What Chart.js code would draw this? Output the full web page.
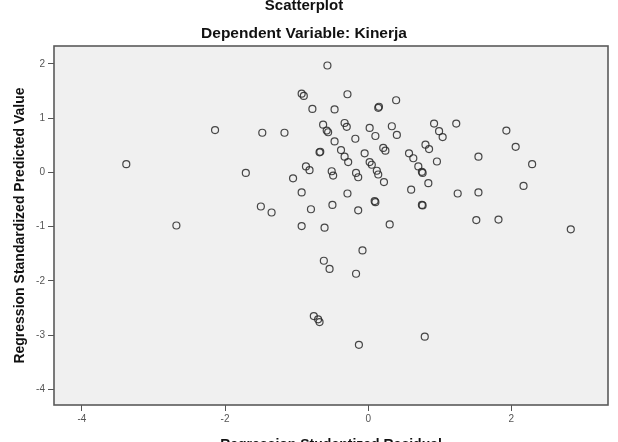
<!DOCTYPE html>
<html>
<head>
<meta charset="utf-8">
<script src="https://cdn.jsdelivr.net/npm/chart.js@4/dist/chart.umd.min.js"></script>
<style>
  html, body { margin: 0; padding: 0; background: #fff; overflow: hidden; }
  #wrap { width: 618px; height: 460px; }
</style>
</head>
<body>
<div id="wrap"><canvas id="scatter_chart"></canvas></div>
<script>
// residuals (x) and predicted values (y)
var residual = [-0.57, -0.93, -0.90, -0.78, -0.47, -2.14, -1.48, -1.17, -0.63, -0.58,
  -0.56, -0.47, -0.68, -0.67, -3.38, -1.71, -0.87, -0.82, -0.51, -0.49,
  -1.05, -0.93, -0.50, -1.50, -1.35, -0.80, -0.29, 0.39, 0.14, 0.15,
  -0.33, -0.30, 0.02, 0.10, 0.33, 0.40, -0.18, 0.92, 0.99, 1.04,
  1.23, 1.93, 2.06, 2.29, 2.17, 1.54, 1.54, 1.25, -0.38, -0.33,
  -0.28, -0.05, 0.02, 0.05, 0.12, 0.14, 0.22, 0.21, 0.24, -0.17,
  -0.14, 0.57, 0.63, 0.70, 0.75, 0.76, 0.80, 0.85, 0.96, 0.84,
  0.60, -0.29, -0.14, 0.09, 0.10, 0.75, 0.76, 1.51, 1.82, 2.83,
  -2.68, -0.93, -0.61, -0.62, -0.54, -0.76, -0.70, -0.68, 0.30, -0.08,
  -0.17, -0.13, 0.79]
var predicted = [1.97, 1.45, 1.41, 1.17, 1.16, 0.78, 0.73, 0.73, 0.88, 0.77,
  0.74, 0.57, 0.37, 0.38, 0.15, -0.01, 0.11, 0.04, 0.02, -0.06,
  -0.11, -0.37, -0.60, -0.63, -0.74, -0.68, 1.44, 1.33, 1.19, 1.21,
  0.91, 0.84, 0.82, 0.67, 0.85, 0.69, 0.62, 0.90, 0.76, 0.65,
  0.90, 0.77, 0.47, 0.15, -0.25, 0.29, -0.37, -0.39, 0.41, 0.29,
  0.19, 0.35, 0.19, 0.14, 0.03, -0.04, -0.18, 0.45, 0.40, -0.01,
  -0.09, 0.35, 0.26, 0.11, 0.01, -0.01, 0.51, 0.43, 0.20, -0.20,
  -0.32, -0.39, -0.70, -0.53, -0.55, -0.60, -0.61, -0.88, -0.87, -1.05,
  -0.98, -0.99, -1.02, -1.63, -1.78, -2.65, -2.71, -2.76, -0.96, -1.44,
  -1.87, -3.18, -3.03]

var xTicks = [-4, -2, 0, 2]
var yTicks = [2, 1, 0, -1, -2, -3, -4]

var points = residual.map((r, i) => ({x: r, y: predicted[i]}))

// grey plot background + frame like SPSS
const framePlugin = {
  id: "frame",
  beforeDatasetsDraw(chart) {
    const a = chart.chartArea, ctx = chart.ctx
    ctx.save()
    ctx.fillStyle = "#f0f0f0"
    ctx.fillRect(a.left, a.top, a.right - a.left, a.bottom - a.top)
    ctx.strokeStyle = "#5a5a5a"
    ctx.lineWidth = 1.6
    ctx.strokeRect(a.left, a.top, a.right - a.left, a.bottom - a.top)
    ctx.restore()
  }
}

const fam = "'Liberation Sans', Arial, sans-serif"
const tickFont = {family: fam, size: 10}
const axisTitleFont = {family: fam, size: 14, weight: "bold"}

var ctx = document.getElementById("scatter_chart").getContext("2d")
var myChart = new Chart(ctx, {
  type: "scatter",
  data: {
    datasets: [{
      data: points,
      pointRadius: 3.5,
      pointBorderWidth: 1.2,
      borderColor: "rgba(40,40,40,0.85)",
      backgroundColor: "rgba(0,0,0,0)",
    }]
  },
  options: {
    responsive: true,
    maintainAspectRatio: false,
    animation: false,
    layout: {padding: {left: 0, right: 10, top: 0, bottom: 0}},
    plugins: {
      legend: {display: false},
      tooltip: {enabled: false},
      title: {
        display: true,
        text: "Scatterplot",
        color: "#111",
        font: {family: fam, size: 15, weight: "bold", lineHeight: 0.8},
        padding: {top: 0, bottom: 13.75},
      },
      subtitle: {
        display: true,
        text: "Dependent Variable: Kinerja",
        color: "#111",
        font: {family: fam, size: 15.5, weight: "bold", lineHeight: 1},
        padding: {top: 0, bottom: 4.75},
      },
    },
    scales: {
      x: {
        type: "linear",
        min: -4.39,
        max: 3.35,
        afterBuildTicks: (s) => { s.ticks = xTicks.map(v => ({value: v})) },
        afterFit: (s) => { s.height = 55 },
        border: {display: false},
        grid: {drawOnChartArea: false, drawTicks: true, tickLength: 6, color: "#555"},
        ticks: {font: tickFont, color: "#555", padding: 2, maxRotation: 0},
        title: {display: true, text: "Regression Studentized Residual", color: "#111",
                font: axisTitleFont, padding: {top: 0, bottom: 6}},
      },
      y: {
        type: "linear",
        min: -4.29,
        max: 2.33,
        afterBuildTicks: (s) => { s.ticks = yTicks.map(v => ({value: v})) },
        afterFit: (s) => { s.width = 54 },
        border: {display: false},
        grid: {drawOnChartArea: false, drawTicks: true, tickLength: 6, color: "#555"},
        ticks: {font: tickFont, color: "#555", padding: 3},
        title: {display: true, text: "Regression Standardized Predicted Value", color: "#111",
                font: axisTitleFont, padding: {top: 12, bottom: 0}},
      },
    },
  },
  plugins: [framePlugin],
})
</script>
</body>
</html>
